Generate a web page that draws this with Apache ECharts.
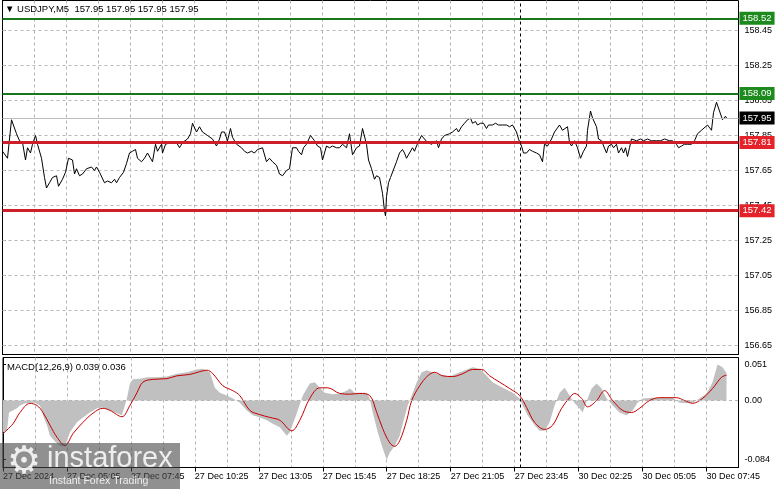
<!DOCTYPE html>
<html><head><meta charset="utf-8">
<script src="https://cdn.jsdelivr.net/npm/echarts@6/dist/echarts.min.js"></script>
<style>html,body{margin:0;padding:0;background:#fff;overflow:hidden}#c{width:781px;height:489px}</style>
</head><body><div id="c"></div>
<script>
// ---------- data ----------
const symbolName = 'USDJPY,M5';
const lastOHLC = [157.95, 157.95, 157.95, 157.95];
const macdParams = [12, 26, 9];
const macdLast = [0.039, 0.036];
const timeLabels = ['27 Dec 2024', '27 Dec 05:05', '27 Dec 07:45', '27 Dec 10:25', '27 Dec 13:05', '27 Dec 15:45',
  '27 Dec 18:25', '27 Dec 21:05', '27 Dec 23:45', '30 Dec 02:25', '30 Dec 05:05', '30 Dec 07:45'];
const priceTicks = [158.45, 158.25, 158.05, 157.85, 157.65, 157.45, 157.25, 157.05, 156.85, 156.65];
const macdTicks = [0.051, 0, -0.084];
const resistanceLevels = [158.52, 158.09];
const supportLevels = [157.81, 157.42];
const lastPrice = 157.95;
const sessionBreakBar = 259;   // Friday close / Monday open (bar index)

// 5-minute bar index from the first visible bar, and close price
const priceBar = [
  0, 2.5, 4.5, 5.5, 7, 8.5, 10, 11.5, 12.5, 14,
  15, 16.5, 17.5, 19.5, 21, 22, 23.5, 25, 27, 28,
  30, 31.5, 33, 35, 36, 37, 38.5, 40, 42, 44.5,
  46, 47, 48.5, 51, 52.5, 54.5, 56, 57, 58.5, 60.5,
  62, 63.5, 65, 66.5, 67.5, 69.5, 71, 72.5, 74, 75,
  76.5, 77.5, 79.5, 80, 81.5, 82.5, 84, 85, 87, 88.5,
  90, 91, 92.5, 94, 95, 97, 98.5, 100, 102.5, 105,
  107, 108.5, 109.5, 111, 112.5, 114, 115, 117, 119.5, 121,
  122.5, 124.5, 126, 127.5, 130, 132, 133.5, 135, 137, 138.5,
  140, 142, 143.5, 145, 147, 148, 149.5, 150.5, 152, 154,
  156, 157.5, 159, 160, 162, 163.5, 165, 167, 168.5, 170,
  172, 173.5, 175, 177, 178.5, 180, 182, 183, 184.5, 186,
  187, 188.5, 190, 191, 191.5, 192, 193, 194, 195, 196,
  197, 198.5, 200, 201, 202, 203.5, 205, 206, 207, 208,
  209.5, 211, 212.5, 214.5, 215.5, 217, 218, 219.5, 221, 222,
  223.5, 225, 227, 228, 229.5, 231, 232.5, 234, 235, 236.5,
  237.5, 239, 240.5, 242, 243, 245, 246.5, 248, 250, 252,
  253.5, 255, 257, 258, 259.5, 260.5, 262, 263.5, 265, 267,
  268.5, 270, 271, 272.5, 274.5, 276, 278.5, 280, 282.5, 283.5,
  284.5, 286, 287.5, 289, 290.5, 292, 292.5, 294, 295, 297,
  298, 299.5, 300.5, 302, 303, 304.5, 305.5, 307, 308, 309.5,
  310.5, 311.5, 312.5, 313.5, 314.5, 317, 319, 320.5, 322.5, 324.5,
  327, 329, 331, 333.5, 335, 337, 338, 339.5, 341, 342.5,
  344.5, 346, 347.5, 349.5, 350.5, 352.5, 353.5, 354.5, 355.5, 357,
  358.5, 360, 361.5, 362
];
const priceValue = [
  157.76, 157.72, 157.94, 157.94, 157.86, 157.82, 157.81, 157.71, 157.78, 157.75,
  157.80, 157.85, 157.80, 157.72, 157.61, 157.55, 157.58, 157.61, 157.62, 157.56,
  157.60, 157.64, 157.72, 157.71, 157.63, 157.66, 157.62, 157.63, 157.66, 157.67,
  157.65, 157.67, 157.64, 157.58, 157.59, 157.58, 157.60, 157.58, 157.61, 157.64,
  157.69, 157.75, 157.76, 157.77, 157.72, 157.70, 157.72, 157.75, 157.72, 157.70,
  157.80, 157.76, 157.80, 157.75, 157.80, 157.79, 157.81, 157.80, 157.81, 157.78,
  157.81, 157.82, 157.83, 157.86, 157.92, 157.87, 157.90, 157.87, 157.85, 157.83,
  157.79, 157.83, 157.87, 157.87, 157.82, 157.89, 157.84, 157.80, 157.78, 157.76,
  157.75, 157.76, 157.75, 157.77, 157.78, 157.70, 157.72, 157.70, 157.68, 157.63,
  157.62, 157.65, 157.66, 157.78, 157.78, 157.76, 157.74, 157.78, 157.80, 157.85,
  157.82, 157.79, 157.78, 157.71, 157.79, 157.78, 157.79, 157.78, 157.78, 157.80,
  157.78, 157.86, 157.74, 157.78, 157.79, 157.89, 157.80, 157.71, 157.66, 157.60,
  157.62, 157.61, 157.52, 157.42, 157.39, 157.50, 157.58, 157.61, 157.62, 157.67,
  157.70, 157.75, 157.77, 157.75, 157.72, 157.75, 157.78, 157.76, 157.79, 157.78,
  157.85, 157.83, 157.81, 157.80, 157.79, 157.82, 157.78, 157.83, 157.85, 157.84,
  157.86, 157.87, 157.89, 157.87, 157.90, 157.92, 157.94, 157.95, 157.92, 157.93,
  157.91, 157.92, 157.92, 157.89, 157.91, 157.91, 157.92, 157.91, 157.91, 157.91,
  157.90, 157.91, 157.87, 157.83, 157.79, 157.75, 157.75, 157.77, 157.76, 157.75,
  157.74, 157.70, 157.80, 157.79, 157.83, 157.87, 157.91, 157.88, 157.90, 157.81,
  157.79, 157.82, 157.78, 157.72, 157.76, 157.79, 157.88, 157.99, 157.95, 157.90,
  157.83, 157.82, 157.81, 157.75, 157.79, 157.80, 157.78, 157.80, 157.75, 157.78,
  157.75, 157.78, 157.73, 157.78, 157.83, 157.82, 157.83, 157.82, 157.83, 157.82,
  157.82, 157.82, 157.83, 157.82, 157.82, 157.80, 157.78, 157.79, 157.80, 157.80,
  157.80, 157.82, 157.86, 157.88, 157.87, 157.91, 157.92, 157.88, 157.98, 158.04,
  157.99, 157.94, 157.96, 157.95
];

// MACD main line (drawn as histogram) and signal line
const macdBar = [
  0, 2, 3, 5, 7, 8.5, 11, 13.5, 16, 18.5,
  20, 22, 23.5, 26, 28.5, 31, 33.5, 37, 40, 43.5,
  47, 50, 53.5, 57, 59.5, 62, 63.5, 65, 68.5, 72,
  77, 82, 87, 92, 97, 100, 103.5, 106, 108.5, 112,
  115, 118.5, 122, 125, 128.5, 132, 135, 138.5, 142, 143.5,
  147, 150, 153.5, 156, 158.5, 161, 165, 168.5, 172, 173.5,
  176, 178.5, 182, 183.5, 185, 187.5, 190, 192, 193.5, 196,
  198.5, 200, 202.5, 204.5, 207, 209.5, 212, 215, 218.5, 223.5,
  228.5, 232, 235, 238.5, 242, 245, 250, 255, 258.5, 260,
  262.5, 266, 268.5, 271, 273.5, 276, 278.5, 281, 283.5, 286,
  288.5, 290, 292.5, 294.5, 297, 299.5, 302, 305, 308.5, 312,
  315, 317.5, 320, 325, 330, 335, 338.5, 342, 345, 348.5,
  352, 355, 357.5, 360, 362
];
const macdValue = [
  -0.045, -0.043, -0.017, -0.014, -0.011, -0.007, -0.004, -0.003, -0.003, -0.007,
  -0.021, -0.035, -0.050, -0.058, -0.064, -0.065, -0.045, -0.031, -0.024, -0.017,
  -0.011, -0.010, -0.014, -0.018, -0.021, 0.003, 0.024, 0.030, 0.031, 0.033,
  0.033, 0.034, 0.038, 0.040, 0.044, 0.045, 0.040, 0.018, 0.011, 0.007,
  0.003, -0.003, -0.014, -0.021, -0.024, -0.028, -0.033, -0.038, -0.050, -0.045,
  -0.018, 0.007, 0.024, 0.026, 0.018, 0.011, 0.009, 0.010, 0.014, 0.017,
  0.011, 0.011, 0.011, 0.003, -0.017, -0.045, -0.068, -0.084, -0.074, -0.064,
  -0.050, -0.033, -0.007, 0.007, 0.026, 0.040, 0.043, 0.040, 0.037, 0.034,
  0.040, 0.044, 0.047, 0.045, 0.035, 0.026, 0.018, 0.011, 0.003, -0.007,
  -0.021, -0.035, -0.043, -0.043, -0.031, -0.007, 0.011, 0.018, 0.007, -0.004,
  -0.011, -0.017, 0.003, 0.017, 0.024, 0.017, 0.003, -0.007, -0.017, -0.021,
  -0.014, -0.003, 0.003, 0.004, 0.004, 0.004, -0.003, -0.004, -0.003, 0.003,
  0.010, 0.026, 0.051, 0.047, 0.039
];
const signalBar = [
  0, 5, 8.5, 13.5, 17, 20, 23.5, 27, 31, 35,
  40, 45, 50, 53.5, 59.5, 63.5, 67, 70, 75, 82,
  87, 93.5, 98.5, 102, 105, 110, 115, 118.5, 123.5, 128.5,
  133.5, 138.5, 144.5, 148.5, 153.5, 158.5, 162.5, 168.5, 173.5, 178.5,
  183.5, 187, 190, 193.5, 196, 198.5, 202, 204.5, 208.5, 212.5,
  216, 220, 225, 230, 235, 239.5, 243.5, 248.5, 253.5, 258.5,
  262, 266, 271, 275, 279.5, 283.5, 286, 289.5, 292.5, 297,
  301, 305, 310, 314.5, 318.5, 323.5, 328.5, 337, 341, 345,
  350, 355, 359.5, 362
];
const signalValue = [
  -0.047, -0.033, -0.017, -0.004, -0.007, -0.017, -0.035, -0.052, -0.064, -0.047,
  -0.031, -0.018, -0.011, -0.014, -0.023, -0.007, 0.011, 0.026, 0.030, 0.031,
  0.035, 0.037, 0.041, 0.043, 0.038, 0.021, 0.014, 0.007, -0.014, -0.020,
  -0.024, -0.028, -0.043, -0.028, 0.003, 0.018, 0.018, 0.010, 0.009, 0.010,
  0.007, -0.017, -0.040, -0.060, -0.065, -0.057, -0.028, 0.000, 0.021, 0.035,
  0.040, 0.035, 0.034, 0.038, 0.044, 0.044, 0.035, 0.026, 0.017, 0.007,
  -0.010, -0.031, -0.041, -0.035, -0.011, 0.004, 0.010, 0.003, -0.009, 0.000,
  0.014, 0.000, -0.014, -0.017, -0.011, 0.000, 0.004, 0.004, 0.000, -0.004,
  0.003, 0.017, 0.033, 0.036
];

// ---------- chart ----------
const FONT = 'Liberation Sans';
const zip = (a, b) => a.map((v, i) => [v, b[i]]);
const VISIBLE_BARS = 368;          // 2 px per 5-minute bar
const PRICE_MAX = 158.62143, PRICE_MIN = 156.59857;
const gridDash = { color: '#b4b4b4', type: [3, 3], width: 1 };
const blackLine = { show: true, lineStyle: { color: '#000', width: 1 } };
const fmtTag = p => Number(p.value).toFixed(2);
const tag = bg => ({
  show: true, position: 'end', distance: 1, formatter: fmtTag,
  backgroundColor: bg, color: '#fff', fontFamily: FONT, fontSize: 9.5,
  padding: [2, 3, 1, 3], lineHeight: 10
});

const levelLines = [
  ...resistanceLevels.map(v => ({ yAxis: v, lineStyle: { color: '#17771a', width: 2, type: 'solid' }, label: tag('#1d8a1d') })),
  ...supportLevels.map(v => ({ yAxis: v, lineStyle: { color: '#cc1f2a', width: 3, type: 'solid' }, label: tag('#e3222a') })),
  { yAxis: lastPrice, lineStyle: { color: '#bdbdbd', width: 1, type: 'solid' }, label: tag('#000') },
  { xAxis: sessionBreakBar, lineStyle: { color: '#000', width: 1, type: [3, 3] }, label: { show: false } }
];

// horizontal dashed grid lines, one per price tick, spanning the time axis
const priceGridSeries = priceTicks.map(v => ({
  type: 'line', xAxisIndex: 0, yAxisIndex: 0, silent: true, z: 1, showSymbol: false, symbol: 'none',
  data: [[0, v], [VISIBLE_BARS, v]], lineStyle: { color: '#b8b8b8', width: 1, type: [3, 3] }
}));

const chart = echarts.init(document.getElementById('c'), null, { renderer: 'canvas' });
chart.setOption({
  animation: false,
  backgroundColor: '#fff',
  title: [
    { text: '▼ ' + symbolName + '  ' + lastOHLC.map(v => v.toFixed(2)).join(' '), left: 5, top: 4, padding: 0,
      textStyle: { fontSize: 9.5, fontWeight: 'normal', fontFamily: FONT, color: '#000' } },
    { text: 'MACD(' + macdParams.join(',') + ') ' + macdLast.map(v => v.toFixed(3)).join(' '), left: 7, top: 362, padding: 0,
      textStyle: { fontSize: 9.5, fontWeight: 'normal', fontFamily: FONT, color: '#000' } }
  ],
  grid: [
    { left: 2.5, right: 42.5, top: 0.5, height: 354, show: true, borderColor: '#000', borderWidth: 1, backgroundColor: '#fff' },
    { left: 2.5, right: 42.5, top: 357.5, height: 110, show: true, borderColor: '#000', borderWidth: 1, backgroundColor: '#fff' }
  ],
  xAxis: [
    { gridIndex: 0, type: 'value', min: 0, max: VISIBLE_BARS, interval: 16,
      axisLine: blackLine, axisTick: { show: false }, axisLabel: { show: false },
      splitLine: { show: true, showMinLine: false, showMaxLine: false, lineStyle: gridDash } },
    { gridIndex: 1, type: 'value', min: 0, max: VISIBLE_BARS, interval: 16,
      axisLine: { show: false }, axisTick: { show: false }, axisLabel: { show: false },
      splitLine: { show: true, showMinLine: false, showMaxLine: false, lineStyle: gridDash } },
    { gridIndex: 1, type: 'value', min: 0, max: VISIBLE_BARS, interval: 32, position: 'bottom',
      axisLine: blackLine,
      axisTick: { show: true, length: 4, lineStyle: { color: '#000' } },
      splitLine: { show: false },
      axisLabel: { show: true, align: 'left', margin: 5, fontFamily: FONT, fontSize: 9, color: '#000',
        showMaxLabel: false,
        formatter: v => (v % 32 === 0 && v / 32 < timeLabels.length) ? timeLabels[v / 32] : '' } }
  ],
  yAxis: [
    { gridIndex: 0, type: 'value', position: 'right', min: PRICE_MIN, max: PRICE_MAX,
      axisLine: blackLine,
      axisTick: { show: true, customValues: priceTicks, length: 3, lineStyle: { color: '#000' } },
      axisLabel: { customValues: priceTicks, formatter: v => v.toFixed(2), margin: 6,
        fontFamily: FONT, fontSize: 9, color: '#000' },
      splitLine: { show: false } },
    { gridIndex: 1, type: 'value', position: 'right', min: -0.095, max: 0.061,
      axisLine: blackLine,
      axisTick: { show: true, customValues: macdTicks, length: 3, lineStyle: { color: '#000' } },
      axisLabel: { customValues: macdTicks, formatter: v => v === 0 ? '0.00' : v.toFixed(3), margin: 6,
        fontFamily: FONT, fontSize: 9, color: '#000' },
      splitLine: { show: false } }
  ],
  series: [
    ...priceGridSeries,
    { name: 'MACD', type: 'line', xAxisIndex: 1, yAxisIndex: 1, data: zip(macdBar, macdValue),
      showSymbol: false, silent: true, z: 2,
      lineStyle: { width: 0, opacity: 0 }, areaStyle: { color: '#c0c0c0', opacity: 1, origin: 0 },
      markLine: { silent: true, symbol: 'none', animation: false,
        data: [
          { yAxis: 0, lineStyle: gridDash, label: { show: false } },
          { xAxis: sessionBreakBar, lineStyle: { color: '#000', width: 1, type: [3, 3] }, label: { show: false } }
        ] } },
    { name: 'Signal', type: 'line', xAxisIndex: 1, yAxisIndex: 1, data: zip(signalBar, signalValue),
      showSymbol: false, silent: true, smooth: 0.35, z: 3,
      lineStyle: { color: '#c40000', width: 1 } },
    { name: symbolName, type: 'line', xAxisIndex: 0, yAxisIndex: 0, data: zip(priceBar, priceValue),
      showSymbol: false, silent: true, z: 3,
      lineStyle: { color: '#000', width: 1 },
      markLine: { silent: true, symbol: 'none', animation: false, data: levelLines } }
  ],
  graphic: [
    { type: 'rect', z: 100, shape: { x: 0, y: 443, width: 180, height: 46 }, style: { fill: 'rgba(70,70,70,0.6)' } },
    { type: 'text', z: 101, x: 24, y: 463, style: { text: '⚙', fontSize: 38, fontFamily: 'DejaVu Sans',
      fill: 'rgba(255,255,255,0.85)', align: 'center', verticalAlign: 'middle' } },
    { type: 'text', z: 101, x: 47, y: 444, style: { text: 'instaforex', fontSize: 29, fontFamily: FONT,
      fill: 'rgba(255,255,255,0.85)', align: 'left', verticalAlign: 'top' } },
    { type: 'text', z: 101, x: 49, y: 481, style: { text: 'Instant Forex Trading', fontSize: 10.5, fontFamily: FONT,
      fill: 'rgba(255,255,255,0.85)', align: 'left', verticalAlign: 'middle' } }
  ]
});
</script>
</body></html>
